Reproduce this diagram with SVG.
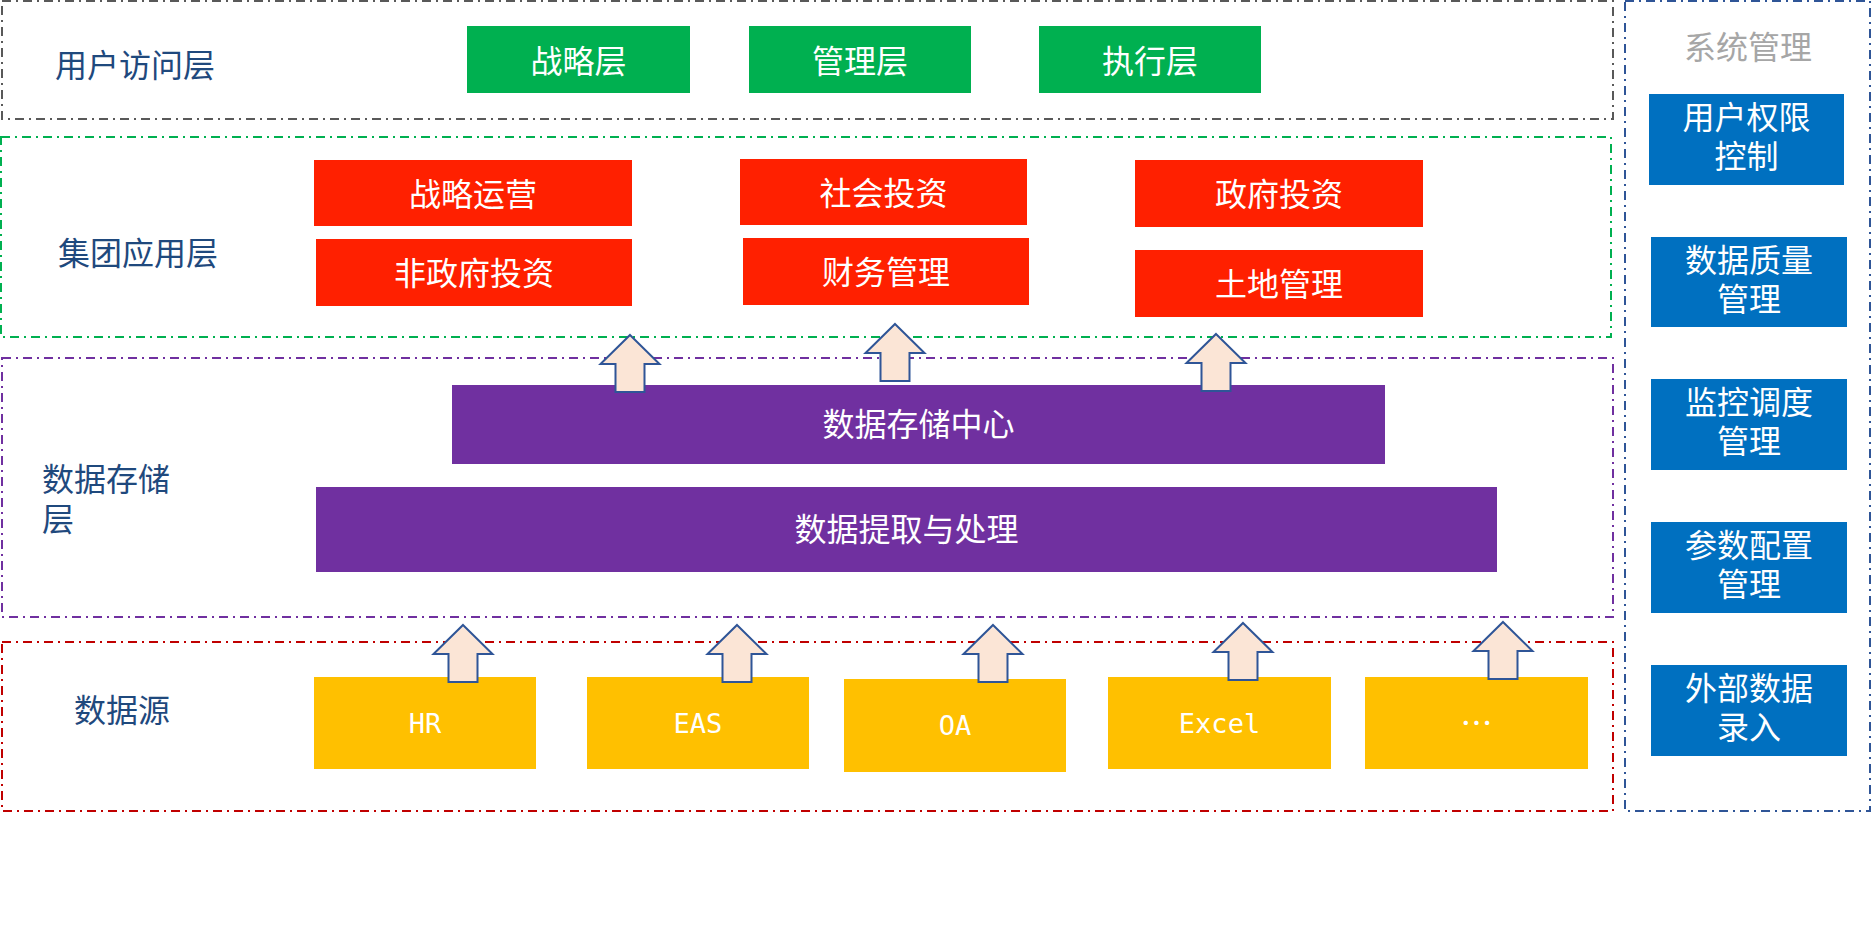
<svg xmlns="http://www.w3.org/2000/svg" width="1872" height="950" viewBox="0 0 1872 950">
<style>
.layer{fill:none;stroke-width:2;stroke-dasharray:9 5 2 5}
.lbl{font-family:"Noto Sans CJK SC","Noto Sans",sans-serif;font-size:32px;fill:#1F497D}
.t{font-family:"Noto Sans CJK SC","Noto Sans",sans-serif;font-size:32px;fill:#FFFFFF;text-anchor:middle;dominant-baseline:central}
.t2{font-family:"Noto Sans CJK SC","Noto Sans",sans-serif;font-size:32px;fill:#FFFFFF;text-anchor:middle}
.m{font-family:"DejaVu Sans Mono","Liberation Mono",monospace;font-size:27px;fill:#FFFFFF;text-anchor:middle;dominant-baseline:central}
.g{fill:#00B050}.r{fill:#FF2000}.p{fill:#7030A0}.y{fill:#FFC000}.b{fill:#0070C0}
.arrow{fill:#FBE5D6;stroke:#2F5597;stroke-width:2;stroke-linejoin:miter}
</style>
<defs>
<path id="up" class="arrow" d="M0,0 L29.5,29 L14.5,29 L14.5,57 L-14.5,57 L-14.5,29 L-29.5,29 Z"/>
</defs>
<rect width="1872" height="950" fill="#FFFFFF"/>

<g id="layer-user">
<rect class="layer" x="2" y="1" width="1611" height="118" stroke="#595959"/>
<text class="lbl" x="55" y="63" dominant-baseline="central">用户访问层</text>
</g>
<g id="layer-app">
<rect class="layer" x="1" y="137" width="1610" height="200" stroke="#00B050"/>
<text class="lbl" x="58" y="251" dominant-baseline="central">集团应用层</text>
</g>
<g id="layer-storage">
<rect class="layer" x="2" y="358" width="1611" height="259" stroke="#7030A0"/>
<text class="lbl" x="42" y="491"><tspan x="42">数据存储</tspan><tspan x="42" dy="40">层</tspan></text>
</g>
<g id="layer-source">
<rect class="layer" x="2" y="642" width="1611" height="169" stroke="#C00000"/>
<text class="lbl" x="74" y="708" dominant-baseline="central">数据源</text>
</g>
<g id="layer-sys">
<rect class="layer" x="1625" y="1" width="245" height="810" stroke="#2F5597"/>
<text x="1748" y="45" font-family="Noto Sans CJK SC,Noto Sans,sans-serif" font-size="32" fill="#A6A6A6" text-anchor="middle" dominant-baseline="central">系统管理</text>
</g>

<g id="n-zhanlueceng"><rect class="g" x="467" y="26" width="223" height="67"/><text class="t" x="578.5" y="59">战略层</text></g>
<g id="n-guanliceng"><rect class="g" x="749" y="26" width="222" height="67"/><text class="t" x="860" y="59">管理层</text></g>
<g id="n-zhixingceng"><rect class="g" x="1039" y="26" width="222" height="67"/><text class="t" x="1150" y="59">执行层</text></g>

<g id="n-zhanlueyunying"><rect class="r" x="314" y="160" width="318" height="66"/><text class="t" x="473" y="191.5">战略运营</text></g>
<g id="n-feizhengfu"><rect class="r" x="316" y="239" width="316" height="67"/><text class="t" x="474" y="271">非政府投资</text></g>
<g id="n-shehui"><rect class="r" x="740" y="159" width="287" height="66"/><text class="t" x="883.5" y="190.5">社会投资</text></g>
<g id="n-caiwu"><rect class="r" x="743" y="238" width="286" height="67"/><text class="t" x="886" y="270">财务管理</text></g>
<g id="n-zhengfu"><rect class="r" x="1135" y="160" width="288" height="67"/><text class="t" x="1279" y="192">政府投资</text></g>
<g id="n-tudi"><rect class="r" x="1135" y="250" width="288" height="67"/><text class="t" x="1279" y="282">土地管理</text></g>

<g id="n-cunchu"><rect class="p" x="452" y="385" width="933" height="79"/><text class="t" x="918.5" y="422">数据存储中心</text></g>
<g id="n-tiqu"><rect class="p" x="316" y="487" width="1181" height="85"/><text class="t" x="906.5" y="527">数据提取与处理</text></g>

<g id="n-hr"><rect class="y" x="314" y="677" width="222" height="92"/><text class="m" x="425" y="723">HR</text></g>
<g id="n-eas"><rect class="y" x="587" y="677" width="222" height="92"/><text class="m" x="698" y="723">EAS</text></g>
<g id="n-oa"><rect class="y" x="844" y="679" width="222" height="93"/><text class="m" x="955" y="725.5">OA</text></g>
<g id="n-excel"><rect class="y" x="1108" y="677" width="223" height="92"/><text class="m" x="1219.5" y="723">Excel</text></g>
<g id="n-more"><rect class="y" x="1365" y="677" width="223" height="92"/><text class="t" x="1476.5" y="721">…</text></g>

<g id="n-quanxian"><rect class="b" x="1649" y="94" width="195" height="91"/><text class="t2" x="1746.5" y="129"><tspan x="1746.5">用户权限</tspan><tspan x="1746.5" dy="39">控制</tspan></text></g>
<g id="n-zhiliang"><rect class="b" x="1651" y="237" width="196" height="90"/><text class="t2" x="1749" y="272"><tspan x="1749">数据质量</tspan><tspan x="1749" dy="39">管理</tspan></text></g>
<g id="n-jiankong"><rect class="b" x="1651" y="379" width="196" height="91"/><text class="t2" x="1749" y="414"><tspan x="1749">监控调度</tspan><tspan x="1749" dy="39">管理</tspan></text></g>
<g id="n-canshu"><rect class="b" x="1651" y="522" width="196" height="91"/><text class="t2" x="1749" y="557"><tspan x="1749">参数配置</tspan><tspan x="1749" dy="39">管理</tspan></text></g>
<g id="n-waibu"><rect class="b" x="1651" y="665" width="196" height="91"/><text class="t2" x="1749" y="700"><tspan x="1749">外部数据</tspan><tspan x="1749" dy="39">录入</tspan></text></g>

<g id="connectors">
<use href="#up" x="630" y="335"/>
<use href="#up" x="895" y="324"/>
<use href="#up" x="1216" y="334"/>
<use href="#up" x="463" y="625"/>
<use href="#up" x="737" y="625"/>
<use href="#up" x="993" y="625"/>
<use href="#up" x="1243" y="623"/>
<use href="#up" x="1503" y="622"/>
</g>
</svg>
